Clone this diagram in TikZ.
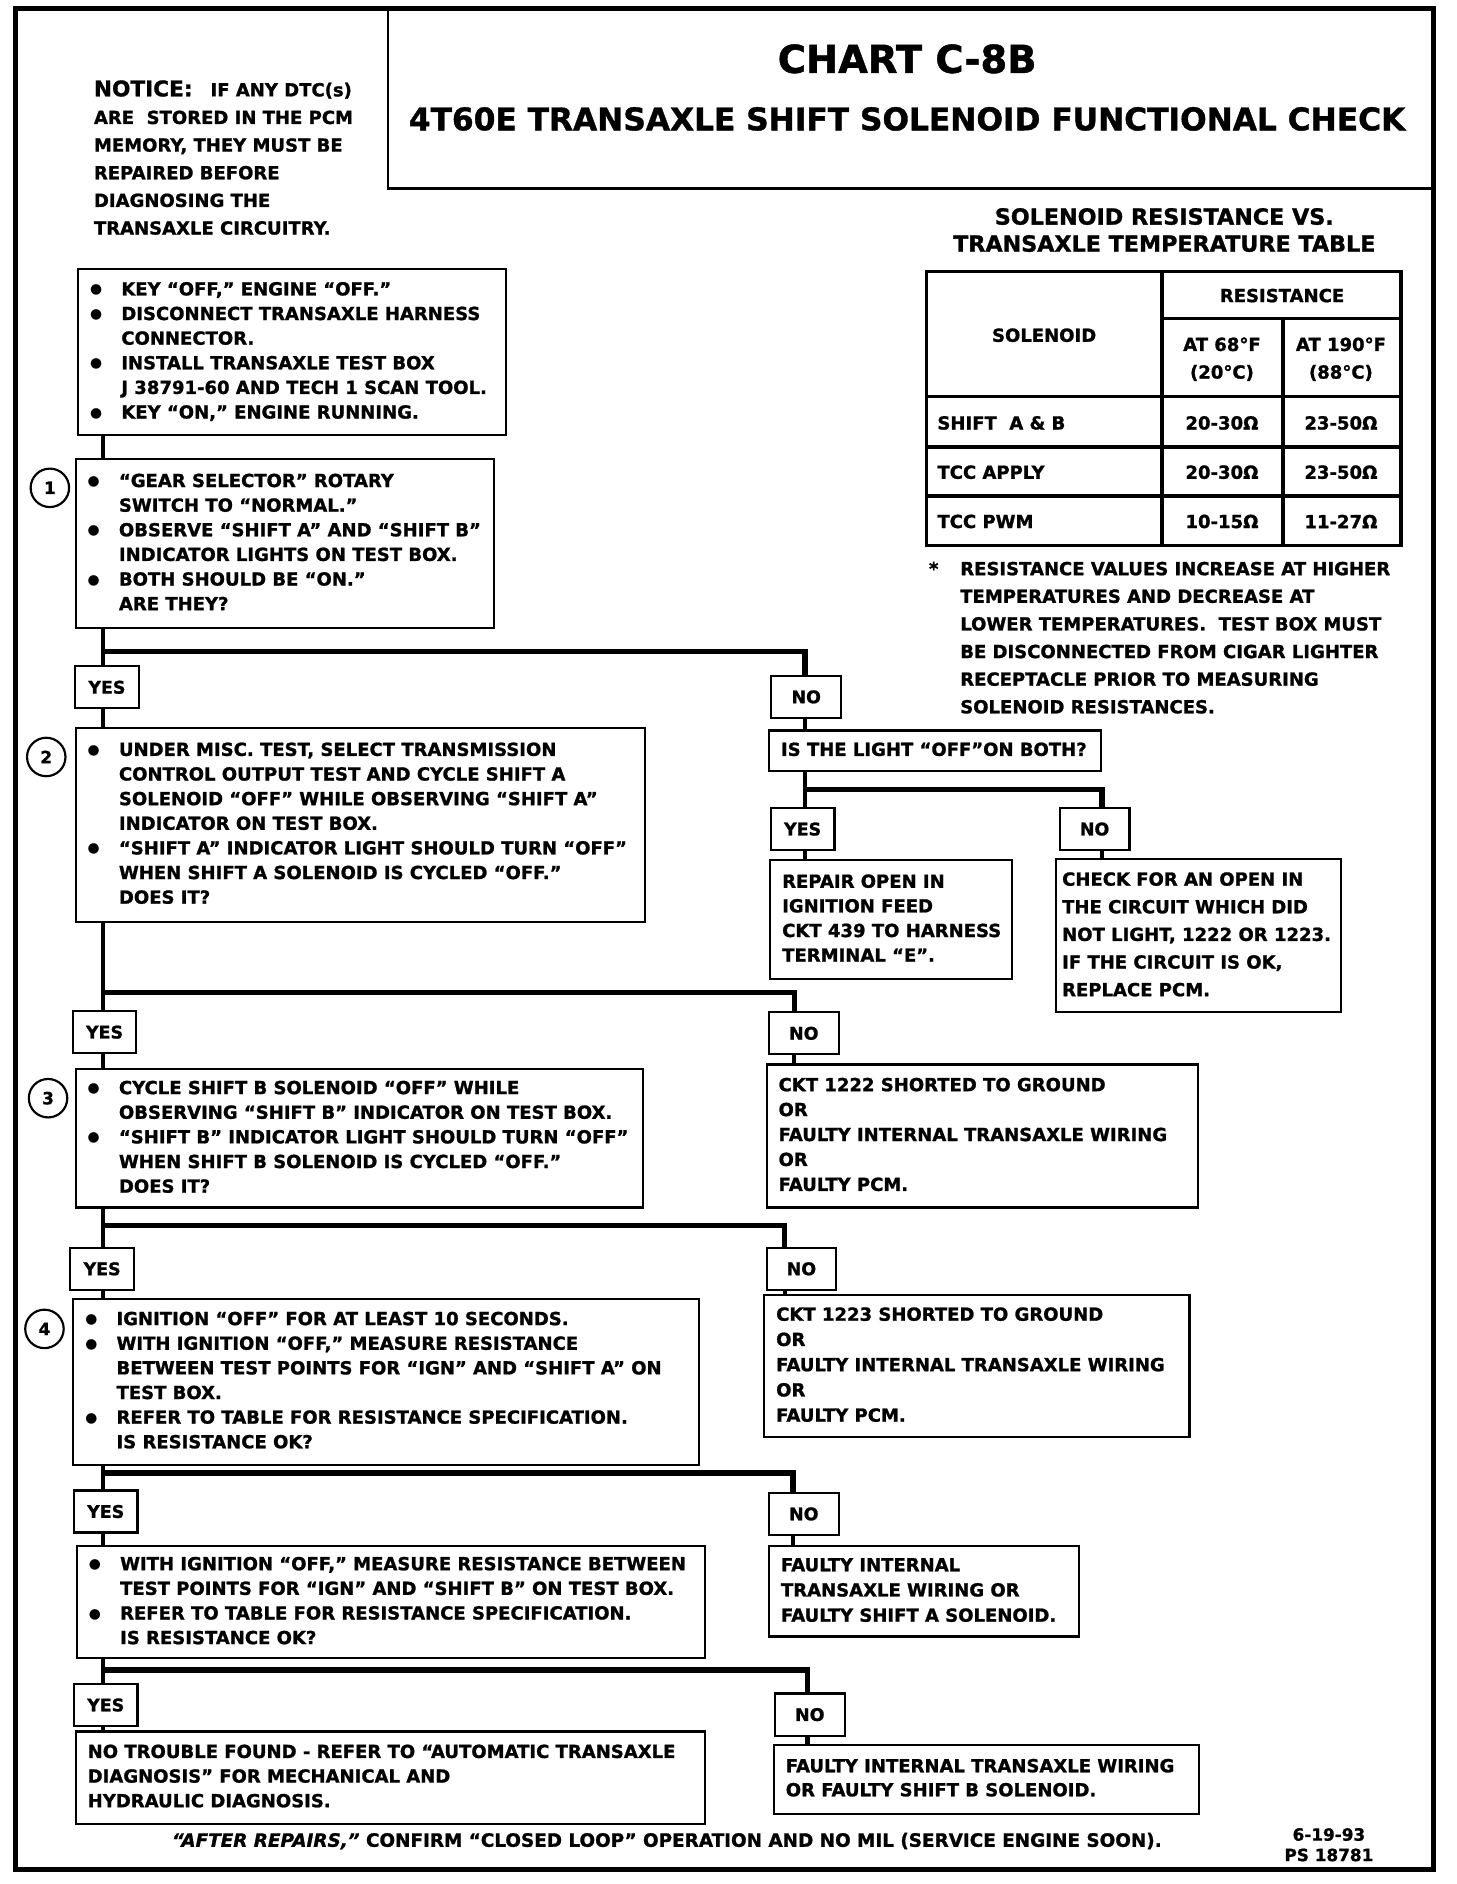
\documentclass[tikz,border=0pt]{standalone}
\usepackage{fontspec}
\setmainfont{DejaVu Sans}[BoldFeatures={FakeBold=1.2}, BoldItalicFeatures={FakeBold=1.2}]
\newfontfamily\symf{DejaVu Sans}
\newcommand{\bodyf}{\fontsize{15}{20.5}\selectfont\bfseries}
\newcommand{\bu}{\makebox[26pt][l]{\raisebox{1.2pt}{\symf\mdseries\fontsize{11.5}{11.5}\selectfont ●}}}
\newcommand{\ii}{\hspace*{26pt}}
\newcommand{\tb}[2]{\makebox[#1][l]{\begin{tabular}{@{}l@{}}#2\end{tabular}}}
\begin{document}
\begin{tikzpicture}[x=1pt,y=-1pt,
  box/.style={draw, line width=1.8pt, fill=white, inner xsep=10pt, inner ysep=0pt, font=\bodyf},
  lab/.style={draw, line width=1.8pt, fill=white, inner sep=0pt, minimum height=35pt, font=\fontsize{14.5}{14.5}\selectfont\bfseries},
  yeslab/.style={lab, minimum width=53pt},
  nolab/.style={lab, minimum width=58pt},
  num/.style={circle, draw, line width=1.8pt, minimum size=32pt, inner sep=0pt, font=\fontsize{14}{14}\selectfont\bfseries},
  vl/.style={line width=3.5pt},
  hl/.style={line width=4.5pt},
  tl/.style={line width=3pt},
  txt/.style={inner sep=0pt, font=\bodyf}]
\useasboundingbox (0,0) rectangle (1212,1568);
\fill[white] (0,0) rectangle (1212,1568);
% frame and title
\draw[line width=3.8pt] (13,7) rectangle (1193,1556);
\draw[line width=2pt] (323,7) rectangle (1193,157);
\node[txt, font=\fontsize{32}{32}\selectfont\bfseries] (chart) at (755,49) {CHART C-8B};
\node[txt, font=\fontsize{26}{26}\selectfont\bfseries] (sub) at (755,99) {4T60E TRANSAXLE SHIFT SOLENOID FUNCTIONAL CHECK};
% notice
\node[txt, anchor=north west, font=\fontsize{15}{23}\selectfont\bfseries] (notice) at (78,63.9)
 {\begin{tabular}{@{}l@{}}{\fontsize{18}{23}\selectfont NOTICE:}\hspace{15pt}IF ANY DTC(s)\\ARE\ \ STORED IN THE PCM\\MEMORY, THEY MUST BE\\REPAIRED BEFORE\\DIAGNOSING THE\\TRANSAXLE CIRCUITRY.\end{tabular}};
% table
\node[txt, anchor=north, font=\fontsize{18.5}{22.5}\selectfont\bfseries] (ttitle) at (969,171)
 {\begin{tabular}{@{}c@{}}SOLENOID RESISTANCE VS.\\TRANSAXLE TEMPERATURE TABLE\end{tabular}};
\draw[tl] (771,226) rectangle (1166,454);
\draw[tl] (967,226) -- (967,454);
\draw[tl] (1068,265) -- (1068,454);
\draw[tl] (967,265) -- (1166,265);
\draw[tl] (771,330) -- (1166,330);
\draw[tl] (771,372) -- (1166,372);
\draw[tl] (771,413) -- (1166,413);
\node[txt] (tres) at (1067,246) {RESISTANCE};
\node[txt] (tsol) at (869,279) {SOLENOID};
\node[txt, font=\fontsize{15}{23}\selectfont\bfseries] (t68) at (1017,299) {\begin{tabular}{@{}c@{}}AT 68°F\\(20°C)\end{tabular}};
\node[txt, font=\fontsize{15}{23}\selectfont\bfseries] (t190) at (1116,299) {\begin{tabular}{@{}c@{}}AT 190°F\\(88°C)\end{tabular}};
\node[txt, anchor=west] (ts1) at (780,352) {SHIFT\ \ A \& B};
\node[txt, anchor=west] (ts2) at (780,393) {TCC APPLY};
\node[txt, anchor=west] (ts3) at (780,434) {TCC PWM};
\node[txt] (v11) at (1017,352) {20-30Ω};
\node[txt] (v12) at (1116,352) {23-50Ω};
\node[txt] (v21) at (1017,393) {20-30Ω};
\node[txt] (v22) at (1116,393) {23-50Ω};
\node[txt] (v31) at (1017,434) {10-15Ω};
\node[txt] (v32) at (1116,434) {11-27Ω};
\node[txt, anchor=north west, font=\fontsize{15}{23}\selectfont\bfseries] (note) at (773,462.4)
 {\begin{tabular}{@{}l@{}l@{}}\makebox[26pt][l]{*} & RESISTANCE VALUES INCREASE AT HIGHER\\
  & TEMPERATURES AND DECREASE AT\\ & LOWER TEMPERATURES.\ \ TEST BOX MUST\\
  & BE DISCONNECTED FROM CIGAR LIGHTER\\ & RECEPTACLE PRIOR TO MEASURING\\
  & SOLENOID RESISTANCES.\end{tabular}};
% main boxes
\node[box, minimum width=356, minimum height=138] (b0) at (243,293) {\tb{336pt}{\bu KEY “OFF,” ENGINE “OFF.”\\ \bu DISCONNECT TRANSAXLE HARNESS\\ \ii CONNECTOR.\\ \bu INSTALL TRANSAXLE TEST BOX\\ \ii J 38791-60 AND TECH 1 SCAN TOOL.\\ \bu KEY “ON,” ENGINE RUNNING.}};
\node[box, minimum width=348, minimum height=141] (b1) at (237,452.5) {\tb{328pt}{\bu “GEAR SELECTOR” ROTARY\\ \ii SWITCH TO “NORMAL.”\\ \bu OBSERVE “SHIFT A” AND “SHIFT B”\\ \ii INDICATOR LIGHTS ON TEST BOX.\\ \bu BOTH SHOULD BE “ON.”\\ \ii ARE THEY?}};
\node[box, minimum width=474, minimum height=161] (b2) at (300,686.5) {\tb{454pt}{\bu UNDER MISC. TEST, SELECT TRANSMISSION\\ \ii CONTROL OUTPUT TEST AND CYCLE SHIFT A\\ \ii SOLENOID “OFF” WHILE OBSERVING “SHIFT A”\\ \ii INDICATOR ON TEST BOX.\\ \bu “SHIFT A” INDICATOR LIGHT SHOULD TURN “OFF”\\ \ii WHEN SHIFT A SOLENOID IS CYCLED “OFF.”\\ \ii DOES IT?}};
\node[box, minimum width=472, minimum height=115] (b3) at (299,947.5) {\tb{452pt}{\bu CYCLE SHIFT B SOLENOID “OFF” WHILE\\ \ii OBSERVING “SHIFT B” INDICATOR ON TEST BOX.\\ \bu “SHIFT B” INDICATOR LIGHT SHOULD TURN “OFF”\\ \ii WHEN SHIFT B SOLENOID IS CYCLED “OFF.”\\ \ii DOES IT?}};
\node[box, minimum width=521, minimum height=138] (b4) at (321.5,1150) {\tb{501pt}{\bu IGNITION “OFF” FOR AT LEAST 10 SECONDS.\\ \bu WITH IGNITION “OFF,” MEASURE RESISTANCE\\ \ii BETWEEN TEST POINTS FOR “IGN” AND “SHIFT A” ON\\ \ii TEST BOX.\\ \bu REFER TO TABLE FOR RESISTANCE SPECIFICATION.\\ \ii IS RESISTANCE OK?}};
\node[box, minimum width=523, minimum height=93] (b5) at (325.5,1333.5) {\tb{503pt}{\bu WITH IGNITION “OFF,” MEASURE RESISTANCE BETWEEN\\ \ii TEST POINTS FOR “IGN” AND “SHIFT B” ON TEST BOX.\\ \bu REFER TO TABLE FOR RESISTANCE SPECIFICATION.\\ \ii IS RESISTANCE OK?}};
\node[box, minimum width=524, minimum height=77] (bf) at (325,1479.5) {\tb{504pt}{NO TROUBLE FOUND - REFER TO “AUTOMATIC TRANSAXLE\\ DIAGNOSIS” FOR MECHANICAL AND\\ HYDRAULIC DIAGNOSIS.}};
% step numbers
\node[num] (c1) at (41.5,406) {1};
\node[num] (c2) at (38.5,630) {2};
\node[num] (c3) at (40,914) {3};
\node[num] (c4) at (37,1106) {4};
% yes / no labels
\node[yeslab] (y1) at (89,572) {YES};
\node[yeslab] (y2) at (87,859) {YES};
\node[yeslab] (y3) at (85,1056) {YES};
\node[yeslab] (y4) at (88,1258) {YES};
\node[yeslab] (y5) at (88,1419) {YES};
\node[nolab] (q1) at (671,580) {NO};
\node[nolab] (q2) at (669,860) {NO};
\node[nolab] (q3) at (667,1056) {NO};
\node[nolab] (q4) at (669,1260) {NO};
\node[nolab] (q5) at (674,1427) {NO};
\node[yeslab] (isy) at (668,690) {YES};
\node[nolab] (isn) at (911,690) {NO};
% result boxes
\node[box, minimum width=276, minimum height=34] (is) at (778,625) {\tb{256pt}{IS THE LIGHT “OFF”ON BOTH?}};
\node[box, minimum width=201, minimum height=99] (r1) at (741.5,765.5) {\tb{181pt}{REPAIR OPEN IN\\IGNITION FEED\\CKT 439 TO HARNESS\\TERMINAL “E”.}};
\node[box, inner xsep=5pt, minimum width=237, minimum height=127, font=\fontsize{15}{23}\selectfont\bfseries] (r2) at (997.5,778.5) {\tb{227pt}{CHECK FOR AN OPEN IN\\THE CIRCUIT WHICH DID\\NOT LIGHT, 1222 OR 1223.\\IF THE CIRCUIT IS OK,\\REPLACE PCM.}};
\node[box, minimum width=359, minimum height=119, font=\fontsize{15}{20.75}\selectfont\bfseries] (r3) at (817.5,945.5) {\tb{339pt}{CKT 1222 SHORTED TO GROUND\\OR\\FAULTY INTERNAL TRANSAXLE WIRING\\OR\\FAULTY PCM.}};
\node[box, minimum width=354, minimum height=118, font=\fontsize{15}{21}\selectfont\bfseries] (r4) at (813,1137) {\tb{334pt}{CKT 1223 SHORTED TO GROUND\\OR\\FAULTY INTERNAL TRANSAXLE WIRING\\OR\\FAULTY PCM.}};
\node[box, minimum width=258, minimum height=75, font=\fontsize{15}{21}\selectfont\bfseries] (r5) at (769,1324.5) {\tb{238pt}{FAULTY INTERNAL\\TRANSAXLE WIRING OR\\FAULTY SHIFT A SOLENOID.}};
\node[box, minimum width=354, minimum height=58, font=\fontsize{15}{20}\selectfont\bfseries] (r6) at (821,1481) {\tb{334pt}{FAULTY INTERNAL TRANSAXLE WIRING\\OR FAULTY SHIFT B SOLENOID.}};
% footer
\node[txt, anchor=base, font=\fontsize{15.3}{18}\selectfont\bfseries] (foot) at (555,1537) {{\itshape “AFTER REPAIRS,”} CONFIRM “CLOSED LOOP” OPERATION AND NO MIL (SERVICE ENGINE SOON).};
\node[txt, font=\fontsize{14}{17}\selectfont\bfseries] (date) at (1106,1537) {\begin{tabular}{@{}c@{}}6-19-93\\PS 18781\end{tabular}};
% junctions
\coordinate (j1) at (86,542); \coordinate (k1) at (670,542);
\coordinate (j2) at (86,826); \coordinate (k2) at (661,826);
\coordinate (j3) at (86,1020); \coordinate (k3) at (653,1020);
\coordinate (j4) at (86,1226); \coordinate (k4) at (660,1226);
\coordinate (j5) at (86,1390); \coordinate (k5) at (672,1390);
\coordinate (jis) at (670,657); \coordinate (kis) at (917,657);
% connectors
\draw[vl] (b0.south -| j1) -- (b1.north -| j1);
\draw[vl] (b1.south -| j1) -- (y1.north -| j1);
\draw[vl] (y1.south -| j1) -- (b2.north -| j1);
\draw[hl] (j1) -- (k1) -- (q1.north -| k1);
\draw[vl] (q1.south -| k1) -- (is.north -| k1);
\draw[vl] (is.south -| jis) -- (isy.north -| jis);
\draw[hl] (jis) -- (kis) -- (isn.north -| kis);
\draw[vl] (isy.south -| jis) -- (r1.north -| jis);
\draw[vl] (isn.south -| kis) -- (r2.north -| kis);
\draw[vl] (b2.south -| j2) -- (y2.north -| j2);
\draw[vl] (y2.south -| j2) -- (b3.north -| j2);
\draw[hl] (j2) -- (k2) -- (q2.north -| k2);
\draw[vl] (q2.south -| k2) -- (r3.north -| k2);
\draw[vl] (b3.south -| j3) -- (y3.north -| j3);
\draw[vl] (y3.south -| j3) -- (b4.north -| j3);
\draw[hl] (j3) -- (k3) -- (q3.north -| k3);
\draw[vl] (q3.south -| k3) -- (r4.north -| k3);
\draw[vl] (b4.south -| j4) -- (y4.north -| j4);
\draw[vl] (y4.south -| j4) -- (b5.north -| j4);
\draw[hl] (j4) -- (k4) -- (q4.north -| k4);
\draw[vl] (q4.south -| k4) -- (r5.north -| k4);
\draw[vl] (b5.south -| j5) -- (y5.north -| j5);
\draw[vl] (y5.south -| j5) -- (bf.north -| j5);
\draw[hl] (j5) -- (k5) -- (q5.north -| k5);
\draw[vl] (q5.south -| k5) -- (r6.north -| k5);
\end{tikzpicture}
\end{document}
